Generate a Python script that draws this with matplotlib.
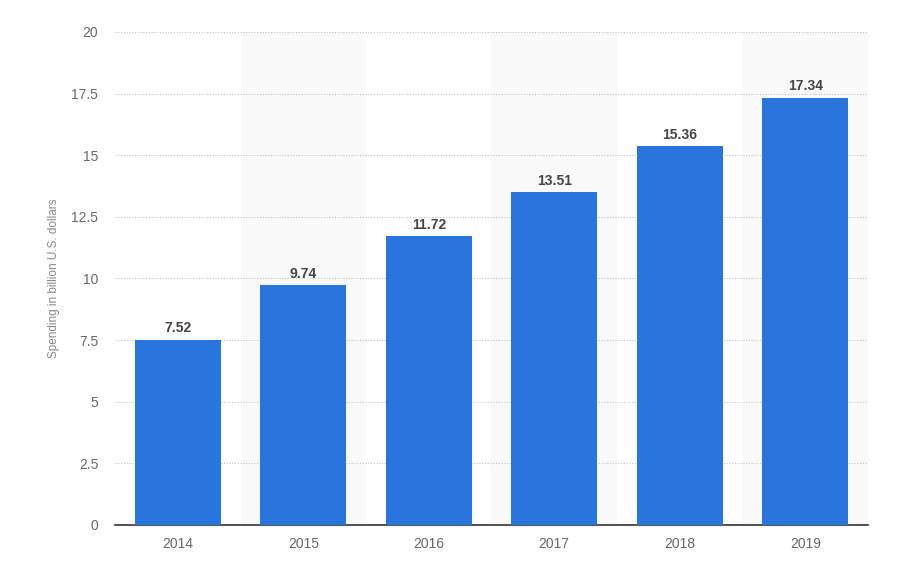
import numpy as np
import matplotlib.pyplot as plt

years = ["2014", "2015", "2016", "2017", "2018", "2019"]
spending = [7.52, 9.74, 11.72, 13.51, 15.36, 17.34]
y_ticks = [0, 2.5, 5, 7.5, 10, 12.5, 15, 17.5, 20]
y_tick_labels = ["0", "2.5", "5", "7.5", "10", "12.5", "15", "17.5", "20"]

plt.rcParams['font.family'] = ['Liberation Sans', 'DejaVu Sans']

fig = plt.figure(figsize=(9, 5.61), dpi=100)
ax = fig.add_axes([0.1278, 0.0642, 0.8366, 0.8788])

x = np.arange(len(years))

# alternating background bands
for i in x:
    if i % 2 == 1:
        ax.axvspan(i - 0.5, i + 0.5, color='#f9f9f9', zorder=0, lw=0)

ax.bar(x, spending, width=0.685, color='#2876dd', zorder=3)

for xi, v in zip(x, spending):
    ax.text(xi, v + 0.17, f"{v:.2f}", ha='center', va='bottom',
            fontsize=10, fontweight='bold', color='#444444', zorder=4)

ax.set_xlim(-0.5, len(years) - 0.5)
ax.set_ylim(0, 20)
ax.set_yticks(y_ticks)
ax.set_yticklabels(y_tick_labels)
ax.set_xticks(x)
ax.set_xticklabels(years)

ax.yaxis.grid(True, linestyle=(0, (1, 1.5)), color='#c4c4c4', linewidth=0.8, zorder=1)
ax.set_axisbelow(True)

for side in ['top', 'right', 'left']:
    ax.spines[side].set_visible(False)
ax.spines['bottom'].set_color('#333333')
ax.spines['bottom'].set_linewidth(1.2)

ax.tick_params(axis='both', length=0, labelsize=10, labelcolor='#666666')
ax.tick_params(axis='y', pad=12)
ax.tick_params(axis='x', pad=9)

ax.set_ylabel("Spending in billion U.S. dollars", fontsize=8.5, color='#888888', labelpad=8)

fig.savefig("out.png", dpi=100)
